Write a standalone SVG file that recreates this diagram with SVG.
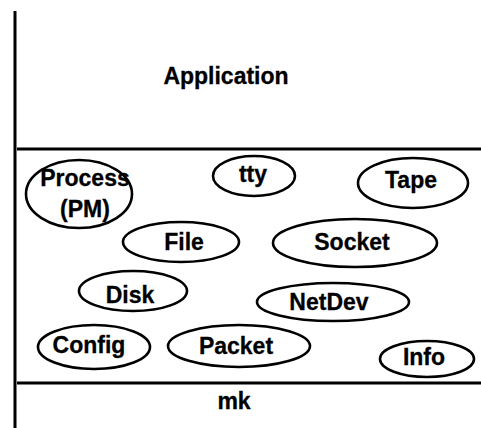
<svg xmlns="http://www.w3.org/2000/svg" width="481" height="428" viewBox="0 0 481 428">
  <style>
    .layer { stroke: #000; stroke-width: 3; fill: none; }
    .node ellipse { fill: #fff; stroke: #000; stroke-width: 2.6; }
    text { font-family: "Liberation Sans", Arial, sans-serif; font-weight: bold; font-size: 23px; fill: #000; stroke: #000; stroke-width: 0.3; text-anchor: middle; }
  </style>
  <rect width="481" height="428" fill="#fff"/>

  <!-- layer boundaries -->
  <g id="connectors">
    <line class="layer" x1="15" y1="11" x2="15" y2="428"/>
    <line class="layer" x1="17" y1="149" x2="481" y2="149"/>
    <line class="layer" x1="17" y1="383" x2="481" y2="383"/>
  </g>

  <g id="application"><text x="226" y="84">Application</text></g>
  <g id="mk"><text x="234" y="409">mk</text></g>

  <g id="process" class="node">
    <ellipse cx="79" cy="194" rx="53" ry="34"/>
    <text x="85" y="186">Process</text>
    <text x="85" y="217">(PM)</text>
  </g>
  <g id="tty" class="node">
    <ellipse cx="254" cy="176" rx="41" ry="20"/>
    <text x="253" y="182">tty</text>
  </g>
  <g id="tape" class="node">
    <ellipse cx="413" cy="183" rx="55" ry="25"/>
    <text x="411" y="188">Tape</text>
  </g>
  <g id="file" class="node">
    <ellipse cx="181" cy="242" rx="58" ry="20"/>
    <text x="184" y="250">File</text>
  </g>
  <g id="socket" class="node">
    <ellipse cx="355" cy="243" rx="82" ry="24"/>
    <text x="352" y="250">Socket</text>
  </g>
  <g id="disk" class="node">
    <ellipse cx="133" cy="291" rx="54" ry="20"/>
    <text x="130" y="303">Disk</text>
  </g>
  <g id="netdev" class="node">
    <ellipse cx="333" cy="302" rx="76" ry="19"/>
    <text x="329" y="310">NetDev</text>
  </g>
  <g id="config" class="node">
    <ellipse cx="94" cy="347" rx="56" ry="22"/>
    <text x="89" y="353">Config</text>
  </g>
  <g id="packet" class="node">
    <ellipse cx="239" cy="346" rx="71" ry="21"/>
    <text x="236" y="354">Packet</text>
  </g>
  <g id="info" class="node">
    <ellipse cx="427" cy="359" rx="47" ry="18"/>
    <text x="424" y="365">Info</text>
  </g>
</svg>
